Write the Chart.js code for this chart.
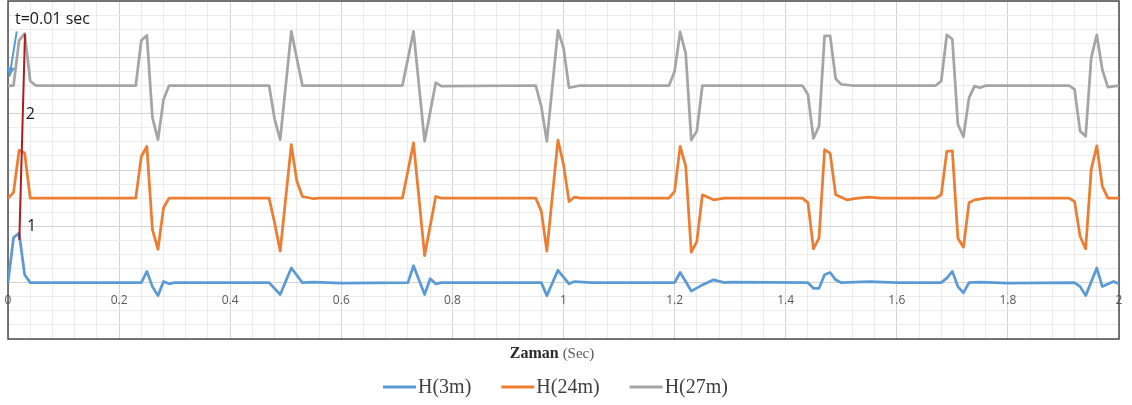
<!DOCTYPE html>
<html>
<head>
<meta charset="utf-8">
<script src="https://cdn.jsdelivr.net/npm/chart.js@4.4.0/dist/chart.umd.min.js"></script>
<style>
  html, body { margin: 0; padding: 0; background: #fff; }
  #wrap { width: 1132px; height: 405px; }
</style>
</head>
<body>
<div id="wrap"><canvas id="waveChart" width="1132" height="405"></canvas></div>
<script>
// --- DATA ---
const seriesNames = ['H(3m)', 'H(24m)', 'H(27m)'];
const seriesColors = ['#5B9BD5', '#ED7D31', '#A5A5A5'];
const xTickLabels = ['0', '0.2', '0.4', '0.6', '0.8', '1', '1.2', '1.4', '1.6', '1.8', '2'];

// H(3m)
const timeH3 = [0, 0.01, 0.02, 0.03, 0.04, 0.24, 0.25, 0.26, 0.27, 0.28, 0.29, 0.30,
  0.47, 0.49, 0.51, 0.53, 0.55, 0.60, 0.72, 0.73, 0.75, 0.76, 0.77, 0.78,
  0.96, 0.97, 0.99, 1.01, 1.02, 1.05, 1.20, 1.21, 1.22, 1.23, 1.25, 1.27, 1.29, 1.30,
  1.44, 1.45, 1.46, 1.47, 1.48, 1.49, 1.50, 1.55, 1.60, 1.68, 1.69, 1.70, 1.71, 1.72, 1.73, 1.75, 1.80,
  1.92, 1.93, 1.94, 1.96, 1.97, 1.99, 2.00];
const valH3 = [0, 0.8, 0.88, 0.14, 0, 0, 0.2, -0.07, -0.23, 0.02, -0.02, 0,
  0, -0.21, 0.26, 0, 0.01, -0.01, 0, 0.3, -0.21, 0.07, -0.02, 0,
  0, -0.23, 0.22, -0.02, 0.02, 0, 0, 0.18, 0.02, -0.15, -0.04, 0.05, 0, 0.01,
  0, -0.1, -0.1, 0.14, 0.18, 0.05, 0, 0.02, 0, 0, 0.08, 0.2, -0.07, -0.18, 0, 0.01, -0.01,
  0, -0.07, -0.23, 0.26, -0.07, 0.02, -0.02];

// H(24m)
const timeH24 = [0, 0.01, 0.02, 0.03, 0.04, 0.23, 0.24, 0.25, 0.26, 0.27, 0.28, 0.29,
  0.47, 0.48, 0.49, 0.51, 0.52, 0.53, 0.55, 0.56, 0.71, 0.73, 0.75, 0.77, 0.78,
  0.95, 0.96, 0.97, 0.99, 1.00, 1.01, 1.02, 1.03, 1.19, 1.20, 1.21, 1.22, 1.23, 1.24, 1.25, 1.27, 1.29,
  1.43, 1.44, 1.45, 1.46, 1.47, 1.48, 1.49, 1.51, 1.53, 1.55, 1.57,
  1.67, 1.68, 1.69, 1.70, 1.71, 1.72, 1.73, 1.74, 1.76,
  1.91, 1.92, 1.93, 1.94, 1.95, 1.96, 1.97, 1.98, 2.00];
const valH24 = [1.5, 1.6, 2.35, 2.3, 1.5, 1.5, 2.24, 2.42, 0.94, 0.59, 1.33, 1.5,
  1.5, 1.06, 0.56, 2.45, 1.8, 1.53, 1.49, 1.5, 1.5, 2.48, 0.48, 1.53, 1.5,
  1.5, 1.27, 0.56, 2.53, 2.1, 1.44, 1.52, 1.5, 1.5, 1.62, 2.42, 2.07, 0.54, 0.73, 1.56, 1.47, 1.5,
  1.5, 1.42, 0.6, 0.79, 2.36, 2.3, 1.56, 1.47, 1.5, 1.52, 1.5,
  1.5, 1.56, 2.33, 2.34, 0.79, 0.63, 1.42, 1.47, 1.5,
  1.5, 1.44, 0.82, 0.6, 2.01, 2.43, 1.71, 1.5, 1.5];

// H(27m)
const timeH27 = [0, 0.01, 0.02, 0.03, 0.04, 0.05, 0.23, 0.24, 0.25, 0.26, 0.27, 0.28, 0.29,
  0.47, 0.48, 0.49, 0.51, 0.53, 0.71, 0.73, 0.75, 0.77, 0.78,
  0.95, 0.96, 0.97, 0.99, 1.00, 1.01, 1.03, 1.19, 1.20, 1.21, 1.22, 1.23, 1.24, 1.25,
  1.43, 1.44, 1.45, 1.46, 1.47, 1.48, 1.49, 1.50, 1.52,
  1.67, 1.68, 1.69, 1.70, 1.71, 1.72, 1.73, 1.74, 1.75, 1.76,
  1.91, 1.92, 1.93, 1.94, 1.95, 1.96, 1.97, 1.98, 2.00];
const valH27 = [3.5, 3.5, 4.3, 4.42, 3.58, 3.5, 3.5, 4.3, 4.39, 2.93, 2.54, 3.25, 3.5,
  3.5, 2.9, 2.54, 4.46, 3.5, 3.5, 4.46, 2.51, 3.55, 3.49,
  3.5, 3.13, 2.51, 4.48, 4.17, 3.46, 3.5, 3.5, 3.75, 4.45, 4.07, 2.53, 2.69, 3.5,
  3.5, 3.34, 2.56, 2.78, 4.38, 4.38, 3.62, 3.52, 3.5,
  3.5, 3.58, 4.4, 4.32, 2.81, 2.59, 3.28, 3.49, 3.46, 3.5,
  3.5, 3.43, 2.69, 2.6, 3.99, 4.4, 3.78, 3.47, 3.5];

const MAJOR_GRID = '#d4d4d4';
const MINOR_GRID = '#ececec';

function isMultiple(v, step) {
    const k = v / step;
    return Math.abs(k - Math.round(k)) < 1e-6;
}

function toPoints(times, vals) {
    return times.map((t, i) => ({ x: t, y: vals[i] }));
}

// --- OVERLAY: plot border, annotations, axis title, legend ---
const overlayPlugin = {
    id: 'overlay',
    beforeDatasetsDraw(chart) {
        const { ctx, chartArea: a } = chart;
        ctx.save();
        ctx.strokeStyle = '#4d4d4d';
        ctx.lineWidth = 1.5;
        ctx.strokeRect(a.left, a.top, a.right - a.left, a.bottom - a.top);
        ctx.restore();
    },
    afterDatasetsDraw(chart) {
        const { ctx } = chart;
        const xs = chart.scales.x, ys = chart.scales.y;
        const px = v => xs.getPixelForValue(v);
        const py = v => ys.getPixelForValue(v);
        ctx.save();

        // red marker line
        ctx.strokeStyle = '#b01c1c';
        ctx.lineWidth = 2;
        ctx.beginPath();
        ctx.moveTo(px(0.0204), py(0.76));
        ctx.lineTo(px(0.0306), py(4.42));
        ctx.stroke();

        // blue arrow
        const x1 = px(0.0157), y1 = py(4.46), x2 = px(0.0027), y2 = py(3.66);
        ctx.strokeStyle = '#5b9bd5';
        ctx.fillStyle = '#5b9bd5';
        ctx.lineWidth = 2;
        ctx.beginPath();
        ctx.moveTo(x1, y1);
        ctx.lineTo(x2, y2);
        ctx.stroke();
        const ang = Math.atan2(y2 - y1, x2 - x1);
        ctx.beginPath();
        ctx.moveTo(x2, y2);
        ctx.lineTo(x2 - 10 * Math.cos(ang - 0.42), y2 - 10 * Math.sin(ang - 0.42));
        ctx.lineTo(x2 - 10 * Math.cos(ang + 0.42), y2 - 10 * Math.sin(ang + 0.42));
        ctx.closePath();
        ctx.fill();

        // text notes
        ctx.fillStyle = '#1a1a1a';
        ctx.font = '16px "Open Sans"';
        ctx.textBaseline = 'middle';
        ctx.textAlign = 'left';
        ctx.fillText('t=0.01 sec', px(0.0126), py(4.67));
        ctx.fillText('2', px(0.032), py(2.98));
        ctx.fillText('1', px(0.034), py(1.0));
        ctx.restore();
    },
    afterDraw(chart) {
        const { ctx } = chart;
        ctx.save();
        ctx.textBaseline = 'alphabetic';

        // axis title
        ctx.font = 'bold 16px "Liberation Serif"';
        const w1 = ctx.measureText('Zaman ').width;
        ctx.font = '15px "Liberation Serif"';
        const w2 = ctx.measureText('(Sec)').width;
        let tx = 552 - (w1 + w2) / 2;
        ctx.font = 'bold 16px "Liberation Serif"';
        ctx.fillStyle = '#2b2b2b';
        ctx.fillText('Zaman ', tx, 358);
        ctx.font = '15px "Liberation Serif"';
        ctx.fillStyle = '#595959';
        ctx.fillText('(Sec)', tx + w1, 358);

        // legend
        ctx.font = '20px "Liberation Serif"';
        let lx = 383;
        seriesNames.forEach((name, i) => {
            ctx.strokeStyle = seriesColors[i];
            ctx.lineWidth = 3;
            ctx.beginPath();
            ctx.moveTo(lx, 387);
            ctx.lineTo(lx + 33, 387);
            ctx.stroke();
            ctx.fillStyle = '#404040';
            ctx.fillText(name, lx + 35, 393);
            lx += 35 + ctx.measureText(name).width + 30;
        });
        ctx.restore();
    }
};

// --- CHART ---
const datasets = [
    toPoints(timeH3, valH3),
    toPoints(timeH24, valH24),
    toPoints(timeH27, valH27)
].map((pts, i) => ({
    label: seriesNames[i],
    data: pts,
    borderColor: seriesColors[i],
    backgroundColor: seriesColors[i],
    borderWidth: 2.75,
    pointRadius: 0,
    tension: 0,
    borderJoinStyle: 'round'
}));

new Chart(document.getElementById('waveChart'), {
    type: 'line',
    data: { datasets },
    options: {
        responsive: false,
        animation: false,
        layout: { padding: { left: 8, top: 1, right: 13, bottom: 66 } },
        plugins: {
            legend: { display: false },
            tooltip: { enabled: false }
        },
        scales: {
            x: {
                type: 'linear',
                min: 0,
                max: 2,
                position: { y: 0 },
                border: { display: false },
                grid: {
                    drawTicks: true,
                    tickLength: 8,
                    tickColor: 'rgba(0,0,0,0)',
                    color: c => isMultiple(c.tick.value, 0.2) ? MAJOR_GRID : MINOR_GRID
                },
                ticks: {
                    stepSize: 0.04,
                    autoSkip: false,
                    maxRotation: 0,
                    padding: 3,
                    color: '#595959',
                    font: { family: '"Open Sans"', size: 12 },
                    callback: v => isMultiple(v, 0.2) ? xTickLabels[Math.round(v / 0.2)] : ''
                }
            },
            y: {
                min: -1,
                max: 5,
                border: { display: false },
                grid: {
                    drawTicks: false,
                    color: c => isMultiple(c.tick.value, 1) ? MAJOR_GRID : MINOR_GRID
                },
                ticks: { display: false, stepSize: 0.25 }
            }
        }
    },
    plugins: [overlayPlugin]
});
</script>
</body>
</html>
